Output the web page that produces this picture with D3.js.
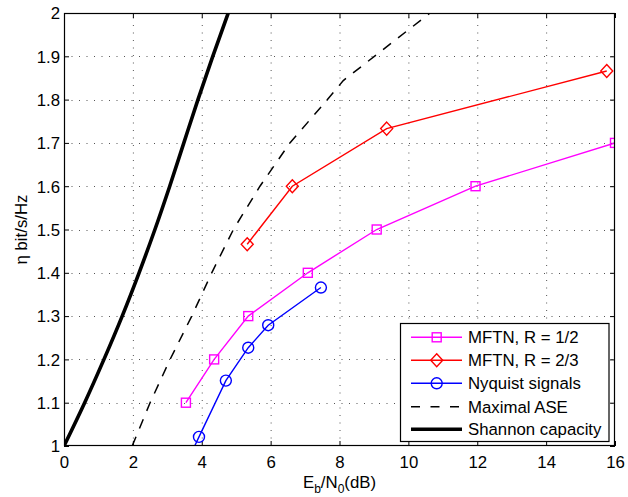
<!DOCTYPE html>
<html>
<head>
<meta charset="utf-8">
<script src="https://cdn.jsdelivr.net/npm/d3@7/dist/d3.min.js"></script>
<style>
  html, body { margin: 0; padding: 0; background: #fff; }
  svg text { font-family: "Liberation Sans", Arial, Helvetica, sans-serif; }
</style>
</head>
<body>
<svg id="chart" width="628" height="497"></svg>
<script>
// Spectral efficiency versus Eb/N0
const xTicks = [0, 2, 4, 6, 8, 10, 12, 14, 16];
const yTicks = [1, 1.1, 1.2, 1.3, 1.4, 1.5, 1.6, 1.7, 1.8, 1.9, 2];
const yTickLabels = ["1", "1.1", "1.2", "1.3", "1.4", "1.5", "1.6", "1.7", "1.8", "1.9", "2"];

// MFTN, R = 1/2
const mftnHalfX = [3.54, 4.36, 5.35, 7.08, 9.08, 11.95, 16.0];
const mftnHalfY = [1.1, 1.2, 1.3, 1.4, 1.5, 1.6, 1.7];
// MFTN, R = 2/3
const mftnTwoThirdsX = [5.32, 6.63, 9.37, 15.76];
const mftnTwoThirdsY = [1.466, 1.6, 1.733, 1.866];
// Nyquist signals (first point lies below the visible range)
const nyquistX = [3.2, 3.92, 4.70, 5.35, 5.93, 7.46];
const nyquistY = [0.9, 1.021, 1.151, 1.227, 1.279, 1.366];
// Maximal ASE
const aseX = [1.98, 2.50, 3.08, 3.71, 4.29, 4.92, 5.69, 6.56, 7.65, 8.11, 10.63];
const aseY = [1.0, 1.1, 1.2, 1.3, 1.4, 1.5, 1.6, 1.7, 1.8, 1.844, 2.0];
// Shannon capacity
const shannonX = [0, 0.60, 1.16, 1.69, 2.18, 2.64, 3.07, 3.48, 3.89, 4.32, 4.77];
const shannonY = [1.0, 1.1, 1.2, 1.3, 1.4, 1.5, 1.6, 1.7, 1.8, 1.9, 2.0];

const legendLabels = ["MFTN, R = 1/2", "MFTN, R = 2/3", "Nyquist signals", "Maximal ASE", "Shannon capacity"];

const zip = (xs, ys) => xs.map((x, i) => [x, ys[i]]);

const svg = d3.select("#chart");
const L = 64, R = 615, T = 13, B = 446;
const x = d3.scaleLinear().domain([0, 16]).range([L, R]);
const y = d3.scaleLinear().domain([1, 2]).range([B, T]);
const fontSize = 16.8;

svg.append("defs").append("clipPath").attr("id", "plotClip")
  .append("rect").attr("x", L).attr("y", T).attr("width", R - L).attr("height", B - T);

// grid
const grid = svg.append("g").attr("stroke", "#555").attr("stroke-width", 1)
  .attr("stroke-dasharray", "1,6.5").attr("fill", "none");
xTicks.slice(1, -1).forEach(t => {
  grid.append("line").attr("x1", x(t) + 0.5).attr("x2", x(t) + 0.5).attr("y1", B).attr("y2", T);
});
yTicks.slice(1, -1).forEach(t => {
  grid.append("line").attr("y1", Math.round(y(t)) + 0.5).attr("y2", Math.round(y(t)) + 0.5).attr("x1", L).attr("x2", R);
});

// axes with inward ticks on all four sides
const tickLen = 5;
const axB = svg.append("g").attr("transform", `translate(0,${B})`)
  .call(d3.axisBottom(x).tickValues(xTicks).tickSizeInner(-tickLen).tickSizeOuter(0).tickPadding(10));
const axT = svg.append("g").attr("transform", `translate(0,${T})`)
  .call(d3.axisTop(x).tickValues(xTicks).tickSizeInner(-tickLen).tickSizeOuter(0).tickFormat(""));
const axL = svg.append("g").attr("transform", `translate(${L},0)`)
  .call(d3.axisLeft(y).tickValues(yTicks).tickSizeInner(-tickLen).tickSizeOuter(0).tickPadding(4)
    .tickFormat((d, i) => yTickLabels[i]));
const axR = svg.append("g").attr("transform", `translate(${R},0)`)
  .call(d3.axisRight(y).tickValues(yTicks).tickSizeInner(-tickLen).tickSizeOuter(0).tickFormat(""));
[axB, axT, axL, axR].forEach(a => {
  a.select(".domain").remove();
  a.selectAll("line").attr("stroke", "#000");
  a.selectAll("text").attr("font-size", fontSize).attr("fill", "#000")
    .attr("font-family", "Liberation Sans, Arial, sans-serif");
});
axB.selectAll("text").attr("dy", "0.71em").attr("y", 10);
axL.selectAll("text").attr("dy", "0.35em");

// data layer
const plot = svg.append("g").attr("clip-path", "url(#plotClip)");
const line = d3.line().x(d => x(d[0])).y(d => y(d[1]));
const smoothLine = d3.line().x(d => x(d[0])).y(d => y(d[1])).curve(d3.curveMonotoneY);

plot.append("path").datum(zip(shannonX, shannonY))
  .attr("d", smoothLine).attr("fill", "none").attr("stroke", "#000").attr("stroke-width", 3.6)
  .attr("stroke-linejoin", "round");
plot.append("path").datum(zip(aseX, aseY))
  .attr("d", line).attr("fill", "none").attr("stroke", "#000").attr("stroke-width", 1.5)
  .attr("stroke-dasharray", "10,9");

const series = [
  { xs: mftnHalfX, ys: mftnHalfY, color: "#ff00ff", marker: "square" },
  { xs: mftnTwoThirdsX, ys: mftnTwoThirdsY, color: "#ff0000", marker: "diamond" },
  { xs: nyquistX, ys: nyquistY, color: "#0000ff", marker: "circle" }
];

function drawMarker(g, kind, cx, cy, color) {
  if (kind === "square") {
    g.append("rect").attr("x", cx - 4.5).attr("y", cy - 4.5).attr("width", 9).attr("height", 9)
      .attr("fill", "none").attr("stroke", color).attr("stroke-width", 1.4);
  } else if (kind === "diamond") {
    g.append("path").attr("d", `M${cx},${cy - 6.5}L${cx + 6},${cy}L${cx},${cy + 6.5}L${cx - 6},${cy}Z`)
      .attr("fill", "none").attr("stroke", color).attr("stroke-width", 1.4);
  } else {
    g.append("circle").attr("cx", cx).attr("cy", cy).attr("r", 5.5)
      .attr("fill", "none").attr("stroke", color).attr("stroke-width", 1.4);
  }
}

series.forEach(s => {
  const pts = zip(s.xs, s.ys);
  plot.append("path").datum(pts).attr("d", line).attr("fill", "none")
    .attr("stroke", s.color).attr("stroke-width", 1.4);
  pts.forEach(p => drawMarker(plot, s.marker, x(p[0]), y(p[1]), s.color));
});

// frame
svg.append("rect").attr("x", L + 0.5).attr("y", T + 0.5).attr("width", R - L - 1).attr("height", B - T - 1)
  .attr("fill", "none").attr("stroke", "#000").attr("stroke-width", 1.2);

// axis titles
const xl = svg.append("text").attr("x", (L + R) / 2).attr("y", 488).attr("text-anchor", "middle")
  .attr("font-size", fontSize);
xl.append("tspan").text("E");
xl.append("tspan").text("b").attr("font-size", fontSize * 0.72).attr("dy", 5);
xl.append("tspan").text("/N").attr("dy", -5);
xl.append("tspan").text("0").attr("font-size", fontSize * 0.72).attr("dy", 5);
xl.append("tspan").text("(dB)").attr("dy", -5);

svg.append("text").attr("transform", `translate(27,${(T + B) / 2}) rotate(-90)`)
  .attr("text-anchor", "middle").attr("font-size", fontSize).text("η bit/s/Hz");

// legend
const lg = svg.append("g");
lg.append("rect").attr("x", 400.5).attr("y", 323.5).attr("width", 208.5).attr("height", 118)
  .attr("fill", "#fff").attr("stroke", "#000").attr("stroke-width", 1.2);
const rowY = [337.3, 360.3, 383.3, 406.7, 429.3];
const lx1 = 411, lx2 = 462, lmx = 436.7, ltx = 468;
legendLabels.forEach((lab, i) => {
  const yy = rowY[i];
  if (i < 3) {
    lg.append("line").attr("x1", lx1).attr("x2", lx2).attr("y1", yy).attr("y2", yy)
      .attr("stroke", series[i].color).attr("stroke-width", 1.4);
    drawMarker(lg, series[i].marker, lmx, yy, series[i].color);
  } else if (i === 3) {
    lg.append("line").attr("x1", lx1).attr("x2", lx2).attr("y1", yy).attr("y2", yy)
      .attr("stroke", "#000").attr("stroke-width", 1.5).attr("stroke-dasharray", "9,10.5");
  } else {
    lg.append("line").attr("x1", lx1).attr("x2", lx2).attr("y1", yy).attr("y2", yy)
      .attr("stroke", "#000").attr("stroke-width", 3.6);
  }
  lg.append("text").attr("x", ltx).attr("y", yy).attr("dy", "0.35em")
    .attr("font-size", fontSize).text(lab);
});
</script>
</body>
</html>
